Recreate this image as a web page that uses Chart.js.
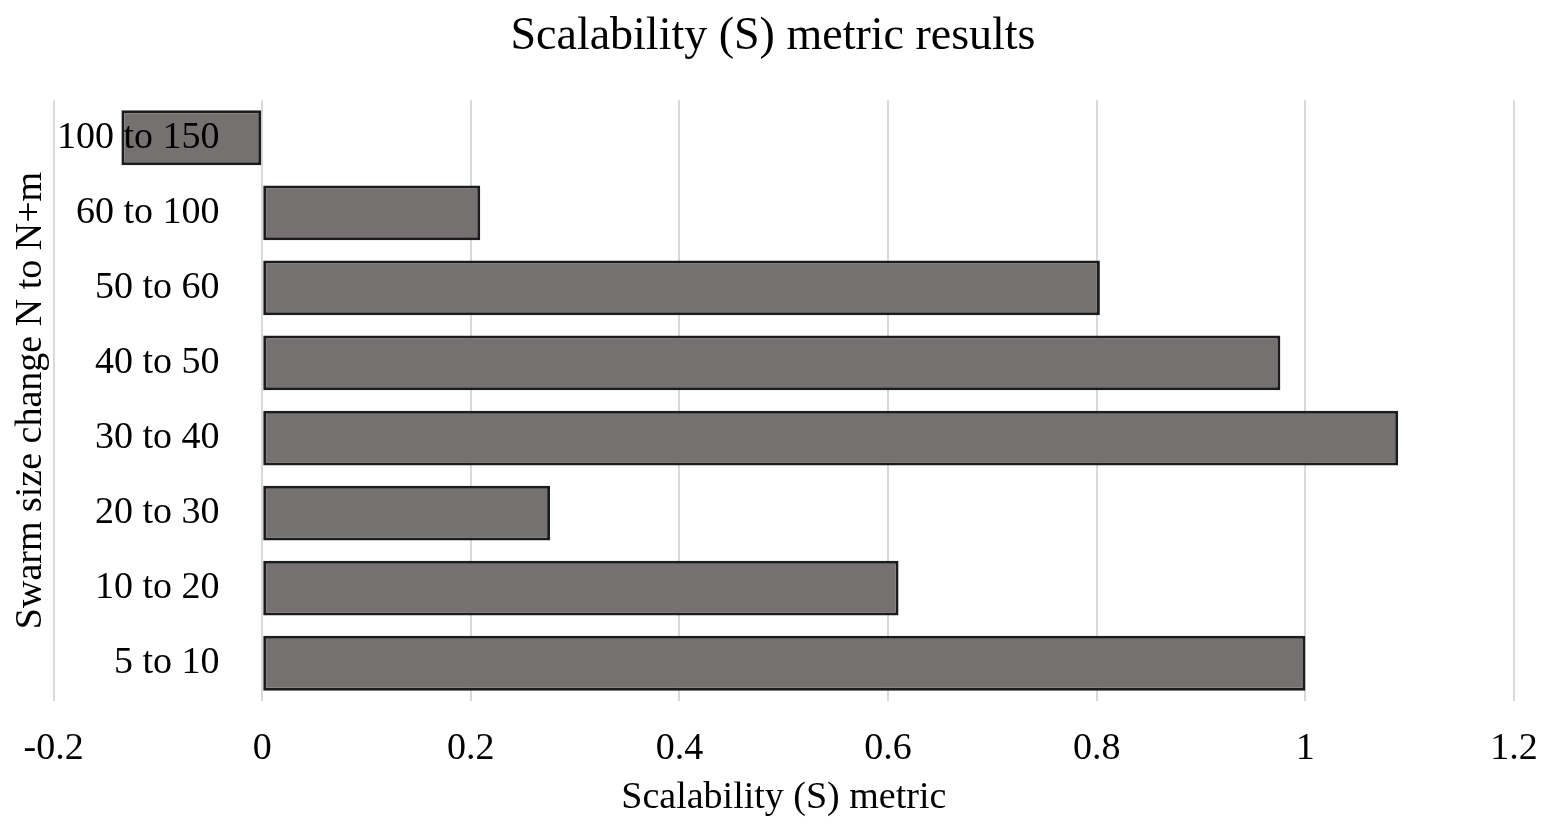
<!DOCTYPE html>
<html>
<head>
<meta charset="utf-8">
<script src="https://cdn.jsdelivr.net/npm/chart.js@4/dist/chart.umd.min.js"></script>
<style>
  html, body { margin: 0; padding: 0; background: #ffffff; }
  #wrap { width: 1546px; height: 836px; }
</style>
</head>
<body>
<div id="wrap"><canvas id="c"></canvas></div>
<script>
const categories = ["100 to 150", "60 to 100", "50 to 60", "40 to 50", "30 to 40", "20 to 30", "10 to 20", "5 to 10"];
const sValues = [-0.135, 0.209, 0.803, 0.976, 1.089, 0.276, 0.610, 1.0];
const xTicks = [-0.2, 0, 0.2, 0.4, 0.6, 0.8, 1, 1.2];
const chartTitle = "Scalability (S) metric results";
const xTitle = "Scalability (S) metric";
const yTitle = "Swarm size change N to N+m";

const FONT = "'Liberation Serif', 'Times New Roman', serif";

new Chart(document.getElementById('c'), {
  type: 'bar',
  data: {
    labels: categories,
    datasets: [{
      data: sValues,
      yAxisID: 'y',
      backgroundColor: '#767171',
      borderColor: '#1c1c1c',
      borderWidth: 3,
      borderSkipped: false,
      categoryPercentage: 1.0,
      barPercentage: 0.73
    }]
  },
  options: {
    indexAxis: 'y',
    responsive: true,
    maintainAspectRatio: false,
    animation: false,
    layout: { padding: { left: 0, right: 0, top: 0, bottom: 0 } },
    plugins: {
      legend: { display: false },
      tooltip: { enabled: false },
      title: {
        display: true,
        text: chartTitle,
        color: '#000000',
        font: { family: FONT, size: 46, weight: 'normal' },
        padding: { top: 9, bottom: 36 }
      }
    },
    scales: {
      x: {
        type: 'linear',
        min: -0.2,
        max: 1.2,
        afterBuildTicks: (axis) => { axis.ticks = xTicks.map(v => ({ value: v })); },
        afterFit: (axis) => { axis.paddingRight = 32; axis.paddingLeft = 0; },
        ticks: {
          color: '#000000',
          font: { family: FONT, size: 38 },
          padding: 25,
          callback: (v) => String(Math.round(v * 10) / 10)
        },
        grid: { color: '#d9d9d9', lineWidth: 2, drawTicks: false },
        border: { display: false },
        title: {
          display: true,
          text: xTitle,
          color: '#000000',
          font: { family: FONT, size: 38 },
          padding: { top: -21, bottom: 15 }
        }
      },
      y: {
        type: 'category',
        position: { x: -0.041 },
        grid: { display: false, drawTicks: false },
        border: { display: false },
        ticks: {
          z: 1,
          color: '#000000',
          font: { family: FONT, size: 38 },
          padding: 0
        }
      },
      y2: {
        type: 'category',
        position: 'left',
        labels: categories,
        grid: { display: false, drawTicks: false },
        border: { display: false },
        ticks: { display: false },
        title: {
          display: true,
          text: yTitle,
          color: '#000000',
          font: { family: FONT, size: 38 },
          padding: { top: 8, bottom: 0 }
        }
      }
    }
  }
});
</script>
</body>
</html>
